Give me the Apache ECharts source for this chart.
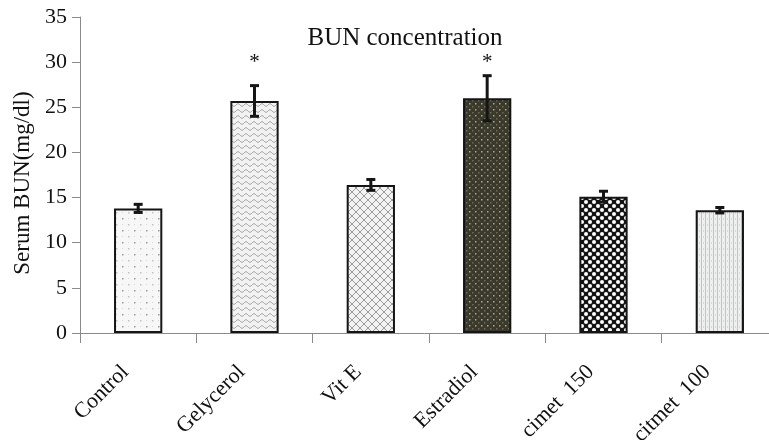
<!DOCTYPE html>
<html><head><meta charset="utf-8">
<script src="https://cdn.jsdelivr.net/npm/echarts@6/dist/echarts.min.js"></script>
<style>html,body{margin:0;padding:0;background:#fff}#c{width:769px;height:440px}</style>
</head><body><div id="c"></div>
<script>
// ---- data ----
const categories = ['Control', 'Gelycerol', 'Vit E', 'Estradiol', 'cimet  150', 'citmet  100'];
const means = [13.8, 25.7, 16.4, 26.0, 15.1, 13.6];
const errors = [0.45, 1.7, 0.6, 2.5, 0.6, 0.3];
const significance = ['', '*', '', '*', '', ''];
const yMin = 0, yMax = 35, yStep = 5;

// ---- patterns ----
function pat(w, h, draw) {
  const c = document.createElement('canvas');
  c.width = w; c.height = h;
  const g = c.getContext('2d');
  draw(g, w, h);
  return { image: c, repeat: 'repeat' };
}
const patterns = [
  pat(12, 12, (g, w, h) => { g.fillStyle = '#f7f7f7'; g.fillRect(0, 0, w, h);
    g.fillStyle = '#9a9a9a'; g.fillRect(2, 2, 1.5, 1.5); g.fillStyle = '#c4c4c4'; g.fillRect(8, 8, 1.5, 1.5);
    g.fillStyle = '#d6d6d6'; g.fillRect(8, 2, 1, 1); g.fillRect(2, 8, 1, 1); }),
  pat(8, 6, (g, w, h) => { g.fillStyle = '#f2f2f2'; g.fillRect(0, 0, w, h);
    g.strokeStyle = '#999999'; g.lineWidth = 1; g.beginPath();
    for (let x = 0; x <= w; x += 0.5) { const y = 3 + 1.3 * Math.sin(x / w * 2 * Math.PI); x === 0 ? g.moveTo(x, y) : g.lineTo(x, y); }
    g.stroke(); }),
  pat(8, 8, (g, w, h) => { g.fillStyle = '#f3f3f3'; g.fillRect(0, 0, w, h);
    g.strokeStyle = '#9a9a9a'; g.lineWidth = 1; g.beginPath();
    g.moveTo(0, 0); g.lineTo(w, h); g.moveTo(w, 0); g.lineTo(0, h); g.stroke(); }),
  pat(6, 6, (g, w, h) => { g.fillStyle = '#3a392b'; g.fillRect(0, 0, w, h);
    g.fillStyle = '#a9a791'; g.fillRect(1, 1, 1.5, 1.5); g.fillStyle = '#6e6c58'; g.fillRect(4, 4, 1.5, 1.5); }),
  pat(8, 8, (g, w, h) => { g.fillStyle = '#141414'; g.fillRect(0, 0, w, h);
    g.fillStyle = '#ffffff'; g.beginPath(); g.arc(2, 2, 2, 0, 2 * Math.PI); g.fill();
    g.beginPath(); g.arc(6, 6, 2, 0, 2 * Math.PI); g.fill(); }),
  pat(4, 6, (g, w, h) => { g.fillStyle = '#eef0f0'; g.fillRect(0, 0, w, h);
    g.fillStyle = '#bfc3c3'; g.fillRect(1, 0, 1, h); g.fillStyle = '#d6dada'; g.fillRect(3, 2, 1, 2); })
];

const serif = 'Liberation Serif';
const chart = echarts.init(document.getElementById('c'), null, { renderer: 'canvas' });
chart.setOption({
  animation: false,
  backgroundColor: '#ffffff',
  title: { text: 'BUN concentration', left: 400, top: 21, textAlign: 'center',
    textStyle: { fontFamily: serif, fontSize: 25, fontWeight: 'normal', color: '#111' } },
  grid: { left: 80, right: -9, top: 17, bottom: 107, containLabel: false, outerBoundsMode: 'none' },
  xAxis: {
    type: 'category', data: categories, boundaryGap: true,
    axisLine: { lineStyle: { color: '#8a8a8a', width: 1 } },
    axisTick: { show: true, length: 10, lineStyle: { color: '#8a8a8a' } },
    axisLabel: { rotate: 45, margin: 23, interval: 0,
      formatter: v => '{t|' + v + '}{s|}',
      rich: { t: { fontFamily: serif, fontSize: 22, color: '#111' }, s: { width: 18 } },
      fontFamily: serif, fontSize: 22, color: '#111' }
  },
  yAxis: {
    type: 'value', min: yMin, max: yMax, interval: yStep,
    name: 'Serum BUN(mg/dl)', nameLocation: 'middle', nameGap: 43,
    nameTextStyle: { fontFamily: serif, fontSize: 23, color: '#111', padding: [0, 16, 0, 0] },
    axisLine: { show: true, lineStyle: { color: '#8a8a8a', width: 1 } },
    axisTick: { show: true, length: 8, lineStyle: { color: '#8a8a8a' } },
    axisLabel: { margin: 13, fontFamily: serif, fontSize: 22, color: '#111' },
    splitLine: { show: false }
  },
  series: [
    { type: 'bar', barWidth: '41.5%',
      data: means.map((v, i) => ({ value: v, itemStyle: { color: patterns[i], borderColor: '#151515', borderWidth: 2 } })) },
    { type: 'custom', z: 5,
      data: means.map((v, i) => [i, v, errors[i]]),
      renderItem: (params, api) => {
        const x = api.value(0), y = api.value(1), e = api.value(2);
        const t = api.coord([x, y + e]), b = api.coord([x, y - e]);
        const cw = 4.5, st = { stroke: '#151515', lineWidth: 3 };
        return { type: 'group', children: [
          { type: 'line', shape: { x1: t[0], y1: t[1], x2: b[0], y2: b[1] }, style: st },
          { type: 'line', shape: { x1: t[0] - cw, y1: t[1], x2: t[0] + cw, y2: t[1] }, style: st },
          { type: 'line', shape: { x1: b[0] - cw, y1: b[1], x2: b[0] + cw, y2: b[1] }, style: st }
        ] };
      } },
    { type: 'custom', z: 6,
      data: significance.map((s, i) => [i, s]),
      renderItem: (params, api) => {
        const i = api.value(0);
        const p = api.coord([i, 30.0]);
        return { type: 'text', style: { text: significance[i], x: p[0], y: p[1], align: 'center', verticalAlign: 'middle',
          fontFamily: serif, fontSize: 21, fill: '#111' } };
      } }
  ]
});
</script></body></html>
